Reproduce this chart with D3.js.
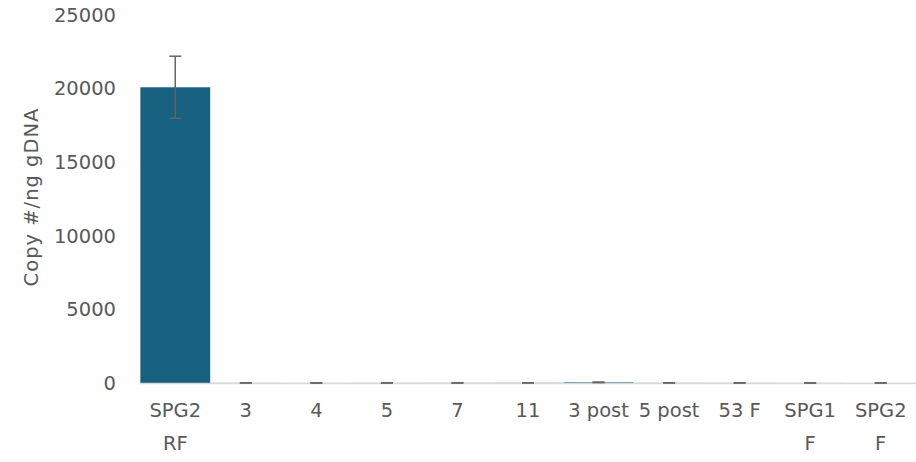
<!DOCTYPE html>
<html>
<head>
<meta charset="utf-8">
<script src="https://cdn.jsdelivr.net/npm/d3@7"></script>
<style>
  body { margin: 0; background: #fff; }
  text { font-family: "DejaVu Sans", sans-serif; fill: #595959; }
</style>
</head>
<body>
<script>
// data
var categories = ["SPG2 RF", "3", "4", "5", "7", "11", "3 post", "5 post", "53 F", "SPG1 F", "SPG2 F"];
var copies = [20090, 8, 6, 7, 9, 12, 45, 10, 8, 6, 4];
var errors = [2110, 4, 3, 3, 4, 5, 20, 4, 3, 3, 2];
var yTicks = [0, 5000, 10000, 15000, 20000, 25000];

var width = 916, height = 462;
var margin = {top: 15, right: 0, bottom: 79, left: 140};
var fontSize = "19.5px";

var svg = d3.select("body").append("svg")
  .attr("width", width)
  .attr("height", height);

var x = d3.scaleBand()
  .domain(categories)
  .range([margin.left, width - margin.right])
  .paddingInner(0.01)
  .paddingOuter(0.005);

var y = d3.scaleLinear()
  .domain([0, 25000])
  .range([height - margin.bottom, margin.top]);

// y tick labels (no axis line, no gridlines)
svg.append("g")
  .selectAll("text")
  .data(yTicks)
  .join("text")
  .attr("x", 116)
  .attr("y", d => y(d))
  .attr("dy", "0.35em")
  .attr("text-anchor", "end")
  .style("font-size", fontSize)
  .text(d => d);

var data = categories.map((c, i) => ({cat: c, v: copies[i], e: errors[i]}));

svg.append("g")
  .selectAll("rect")
  .data(data)
  .join("rect")
  .attr("x", d => x(d.cat))
  .attr("y", d => y(d.v))
  .attr("width", x.bandwidth())
  .attr("height", d => y(0) - y(d.v))
  .attr("fill", "#17607f");

// baseline
svg.append("line")
  .attr("x1", margin.left)
  .attr("x2", width)
  .attr("y1", y(0) + 0.5)
  .attr("y2", y(0) + 0.5)
  .attr("stroke", "#d9d9d9")
  .attr("stroke-width", 1.5);

// error bars
var eb = svg.append("g")
  .attr("stroke", "#646464")
  .attr("stroke-width", 1.5)
  .selectAll("g")
  .data(data)
  .join("g")
  .attr("transform", d => "translate(" + (x(d.cat) + x.bandwidth() / 2) + ",0)");

eb.append("line")
  .attr("y1", d => y(d.v + d.e))
  .attr("y2", d => y(Math.max(0, d.v - d.e)));
eb.append("line")
  .attr("x1", -6).attr("x2", 6)
  .attr("y1", d => y(d.v + d.e))
  .attr("y2", d => y(d.v + d.e));
eb.append("line")
  .attr("x1", -6).attr("x2", 6)
  .attr("y1", d => y(Math.max(0, d.v - d.e)))
  .attr("y2", d => y(Math.max(0, d.v - d.e)));

// category labels, wrapped like the original
var labels = svg.append("g")
  .selectAll("text")
  .data(categories)
  .join("text")
  .attr("x", d => x(d) + x.bandwidth() / 2)
  .attr("y", 417)
  .attr("text-anchor", "middle")
  .style("font-size", fontSize);

labels.each(function(d) {
  var parts = (d.startsWith("SPG")) ? d.split(" ") : [d];
  d3.select(this).selectAll("tspan")
    .data(parts)
    .join("tspan")
    .attr("x", x(d) + x.bandwidth() / 2)
    .attr("dy", (p, i) => i ? 33 : 0)
    .text(p => p);
});

// axis title
svg.append("text")
  .attr("transform", "translate(38,197) rotate(-90)")
  .attr("text-anchor", "middle")
  .style("font-size", fontSize)
  .style("letter-spacing", "1px")
  .text("Copy #/ng gDNA");
</script>
</body>
</html>
